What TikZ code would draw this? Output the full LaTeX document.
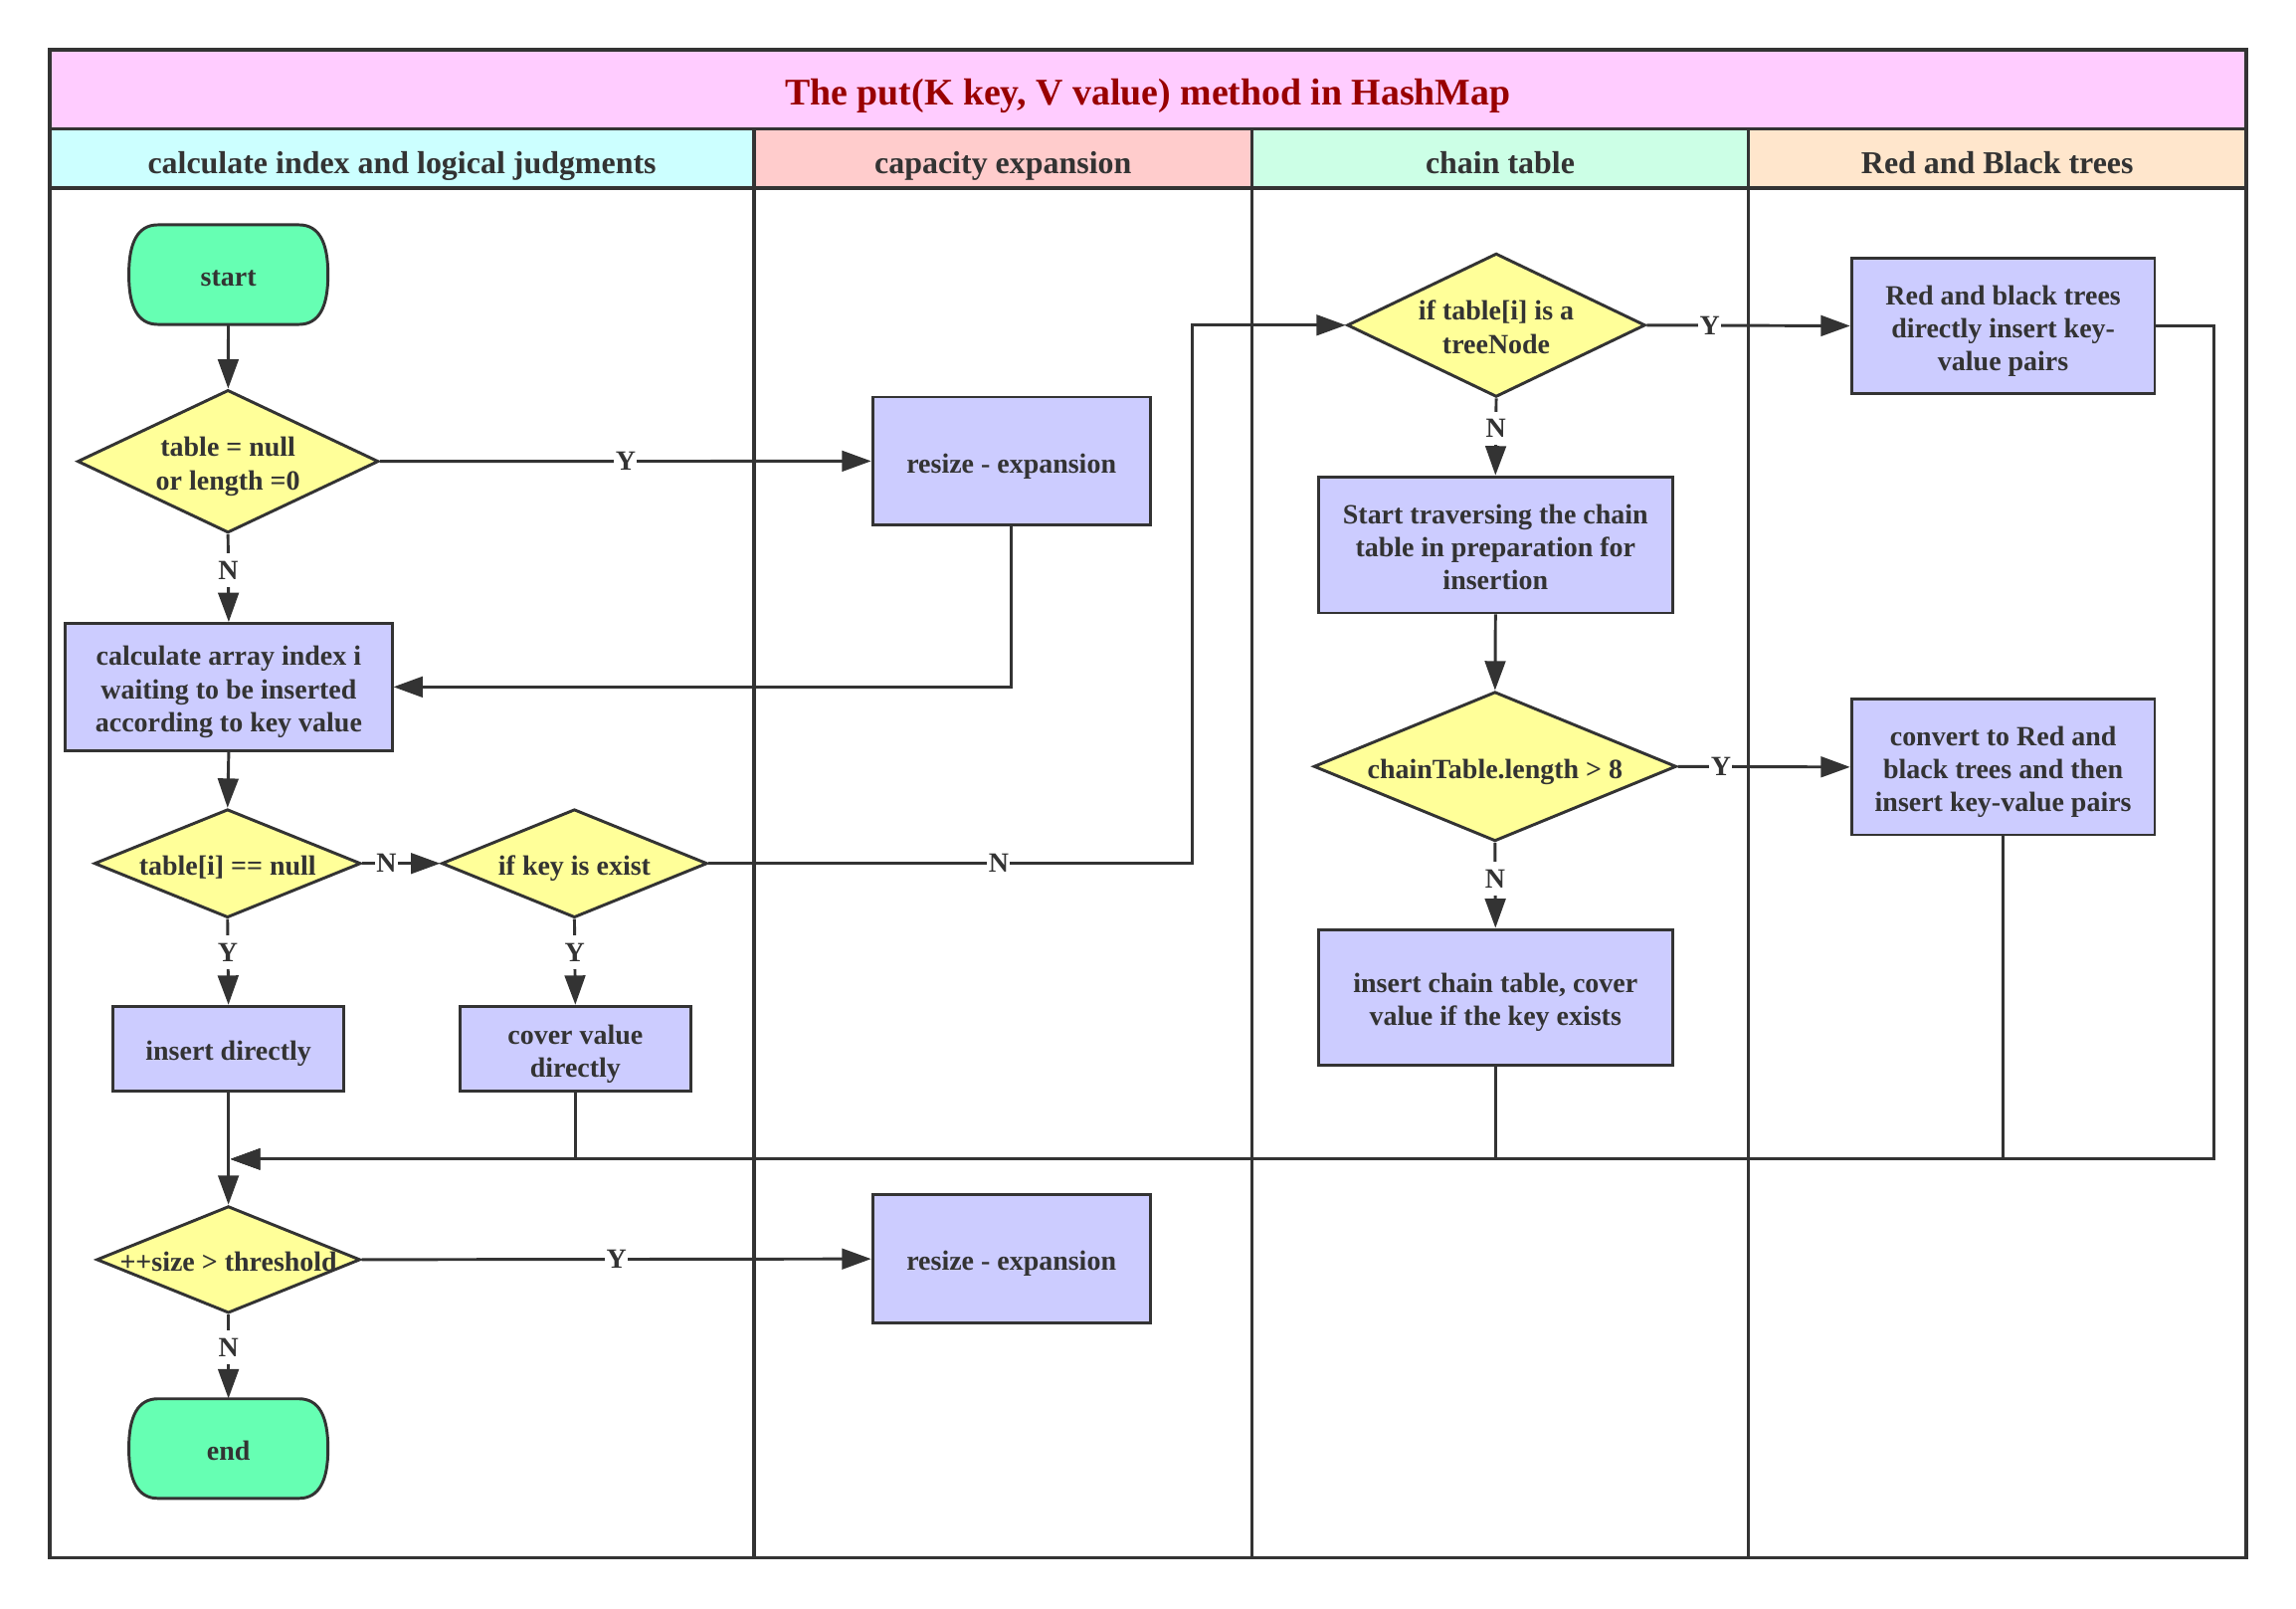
\documentclass[tikz,border=0pt]{standalone}
\usepackage{fontspec}
\setmainfont{Liberation Serif}
\usetikzlibrary{shapes.geometric,arrows.meta}
\definecolor{ink}{HTML}{333333}
\definecolor{titlered}{HTML}{990000}
\definecolor{titlebg}{HTML}{FFCCFF}
\definecolor{laneA}{HTML}{CCFFFF}
\definecolor{laneB}{HTML}{FFCCCC}
\definecolor{laneC}{HTML}{CCFFE6}
\definecolor{laneD}{HTML}{FFE6CC}
\definecolor{procfill}{HTML}{CCCCFF}
\definecolor{decfill}{HTML}{FFFF99}
\definecolor{termfill}{HTML}{66FFB3}
\newcommand\ts{\rule{0pt}{20.2pt}}
\newcommand\bs{\rule[-4.2pt]{0pt}{4.2pt}}
\newcommand\lblstrut{\rule[-4.2pt]{0pt}{20.9pt}}
\newcommand\termbg[2]{%
  \begin{scope}[shift={(#1,#2)}]
  \filldraw[draw=ink, fill=termfill, line width=2pt]
    (-48,-34) -- (48,-34) .. controls (62,-34) and (68,-22) .. (68,0)
    .. controls (68,22) and (62,34) .. (48,34) -- (-48,34)
    .. controls (-62,34) and (-68,22) .. (-68,0)
    .. controls (-68,-22) and (-62,-34) .. (-48,-34) -- cycle;
  \end{scope}}
\begin{document}
\begin{tikzpicture}[x=1pt,y=-1pt,
  fnt/.style={font=\fontsize{19}{22.6}\selectfont\bfseries, text=ink, align=center},
  txt/.style={fnt},
  proc/.style={txt, draw=ink, line width=2pt, fill=procfill, inner sep=0pt},
  term/.style={txt, minimum width=136pt, minimum height=68pt, inner sep=0pt},
  dec/.style={draw=ink, line width=2pt, fill=decfill, diamond, inner sep=0pt},
  conn/.style={draw=ink, line width=2pt, -{Triangle[length=20pt,width=14pt]}},
  lbl/.style={fnt, fill=white, inner sep=1pt, execute at begin node=\lblstrut},
  frame/.style={draw=ink, line width=2.5pt},
  hdr/.style={font=\fontsize{21.7}{26}\selectfont\bfseries, text=ink, anchor=base},
  ttl/.style={font=\fontsize{25.7}{30}\selectfont\bfseries, text=titlered, anchor=base},
]
\useasboundingbox (0,0) rectangle (1568,1098);
% pool background
\fill[white] (0,0) rectangle (1568,1098);
\fill[titlebg] (34,34) rectangle (1534,88);
\fill[laneA] (34,88) rectangle (515,128.6);
\fill[laneB] (515,88) rectangle (855,128.6);
\fill[laneC] (855,88) rectangle (1194,128.6);
\fill[laneD] (1194,88) rectangle (1534,128.6);
\node[ttl] (title) at (784,71.5) {The put(K key, V value) method in HashMap};
\node[hdr] (hA) at (274.5,118.3) {calculate index and logical judgments};
\node[hdr] (hB) at (685,118.3) {capacity expansion};
\node[hdr] (hC) at (1024.5,118.3) {chain table};
\node[hdr] (hD) at (1364,118.3) {Red and Black trees};
\draw[frame] (34,34) rectangle (1534,1063.6);
\draw[frame] (34,88) -- (1534,88);
\draw[frame] (34,128.6) -- (1534,128.6);
\draw[frame] (515,88) -- (515,1063.6);
\draw[frame] (855,88) -- (855,1063.6);
\draw[frame] (1194,88) -- (1194,1063.6);

% nodes
\termbg{156}{187.5}
\node[term] (start) at (156,187.5) {\ts start\bs};
\node[dec, minimum width=205.6pt, minimum height=97.5pt,
  label={[txt]center:{\ts table = null\\or length =0\bs}}] (d1) at (155.7,315) {};
\node[proc, minimum width=189.5pt, minimum height=87.5pt] (rs1) at (690.7,314.8) {\ts resize - expansion\bs};
\node[proc, minimum width=223pt, minimum height=86.7pt] (calc) at (156.2,469)
  {\ts calculate array index i\\waiting to be inserted\\according to key value\bs};
\node[dec, minimum width=182pt, minimum height=74pt,
  label={[txt]center:{\ts table[i] == null\bs}}] (d2) at (155.4,589.5) {};
\node[dec, minimum width=181.4pt, minimum height=74pt,
  label={[txt]center:{\ts if key is exist\bs}}] (d3) at (392.3,589.5) {};
\node[proc, minimum width=157.7pt, minimum height=58pt] (ins) at (156,716) {\ts insert directly\bs};
\node[proc, minimum width=158pt, minimum height=58pt] (cov) at (392.9,716) {\ts cover value\\directly\bs};
\node[dec, minimum width=180pt, minimum height=73pt,
  label={[txt]center:{\ts ++size > threshold\bs}}] (d5) at (156,860) {};
\node[proc, minimum width=189.5pt, minimum height=87.5pt] (rs2) at (690.7,859.5) {\ts resize - expansion\bs};
\termbg{156}{989}
\node[term] (end) at (156,989) {\ts end\bs};
\node[dec, minimum width=203.6pt, minimum height=98pt,
  label={[txt]center:{\ts if table[i] is a\\treeNode\bs}}] (d4) at (1021.8,222) {};
\node[proc, minimum width=207pt, minimum height=93pt] (rb) at (1368,222.5)
  {\ts Red and black trees\\directly insert key-\\value pairs\bs};
\node[proc, minimum width=241.5pt, minimum height=93pt] (trav) at (1021.3,372)
  {\ts Start traversing the chain\\table in preparation for\\insertion\bs};
\node[dec, minimum width=247.6pt, minimum height=102pt,
  label={[txt]center:{\ts chainTable.length > 8\bs}}] (d6) at (1021,523.3) {};
\node[proc, minimum width=207pt, minimum height=92.6pt] (conv) at (1368,523.7)
  {\ts convert to Red and\\black trees and then\\insert key-value pairs\bs};
\node[proc, minimum width=241.5pt, minimum height=92.5pt] (ich) at (1021.3,680.8)
  {\ts insert chain table, cover\\value if the key exists\bs};

\coordinate (mrg) at (157.5,791.4);
\coordinate (nx) at (814,0);
\coordinate (rx) at (1512,0);

% connectors
\draw[conn] (start) -- (d1);
\draw[conn] (d1.east) -- node[lbl,pos=0.5]{Y} (rs1.west);
\draw[conn] (d1.south) -- node[lbl,pos=0.41]{N} (calc.north);
\draw[conn] (rs1.south) |- (calc.east);
\draw[conn] (calc.south) -- (d2.north);
\draw[conn] (d2.east) -- node[lbl,pos=0.31]{N} (d3.west);
\draw[conn] (d2.south) -- node[lbl,pos=0.39]{Y} (ins.north);
\draw[conn] (d3.south) -- node[lbl,pos=0.39]{Y} (cov.north);
\draw[conn] (d3.east) -- node[lbl,pos=0.6]{N} (d3.east -| nx) |- (d4.west);
\draw[conn] (ins.south) -- (d5.north);
\draw[conn] (cov.south) |- (mrg);
\draw[conn] (ich.south) |- (mrg);
\draw[conn] (conv.south) |- (mrg);
\draw[conn] (rb.east) -- (rb.east -| rx) |- (mrg);
\draw[conn] (d4.east) -- node[lbl,pos=0.31]{Y} (rb.west);
\draw[conn] (d4.south) -- node[lbl,pos=0.39]{N} (trav.north);
\draw[conn] (trav.south) -- (d6.north);
\draw[conn] (d6.east) -- node[lbl,pos=0.25]{Y} (conv.west);
\draw[conn] (d6.south) -- node[lbl,pos=0.42]{N} (ich.north);
\draw[conn] (d5.east) -- node[lbl,pos=0.5]{Y} (rs2.west);
\draw[conn] (d5.south) -- node[lbl,pos=0.39]{N} (end.north);
\end{tikzpicture}
\end{document}
